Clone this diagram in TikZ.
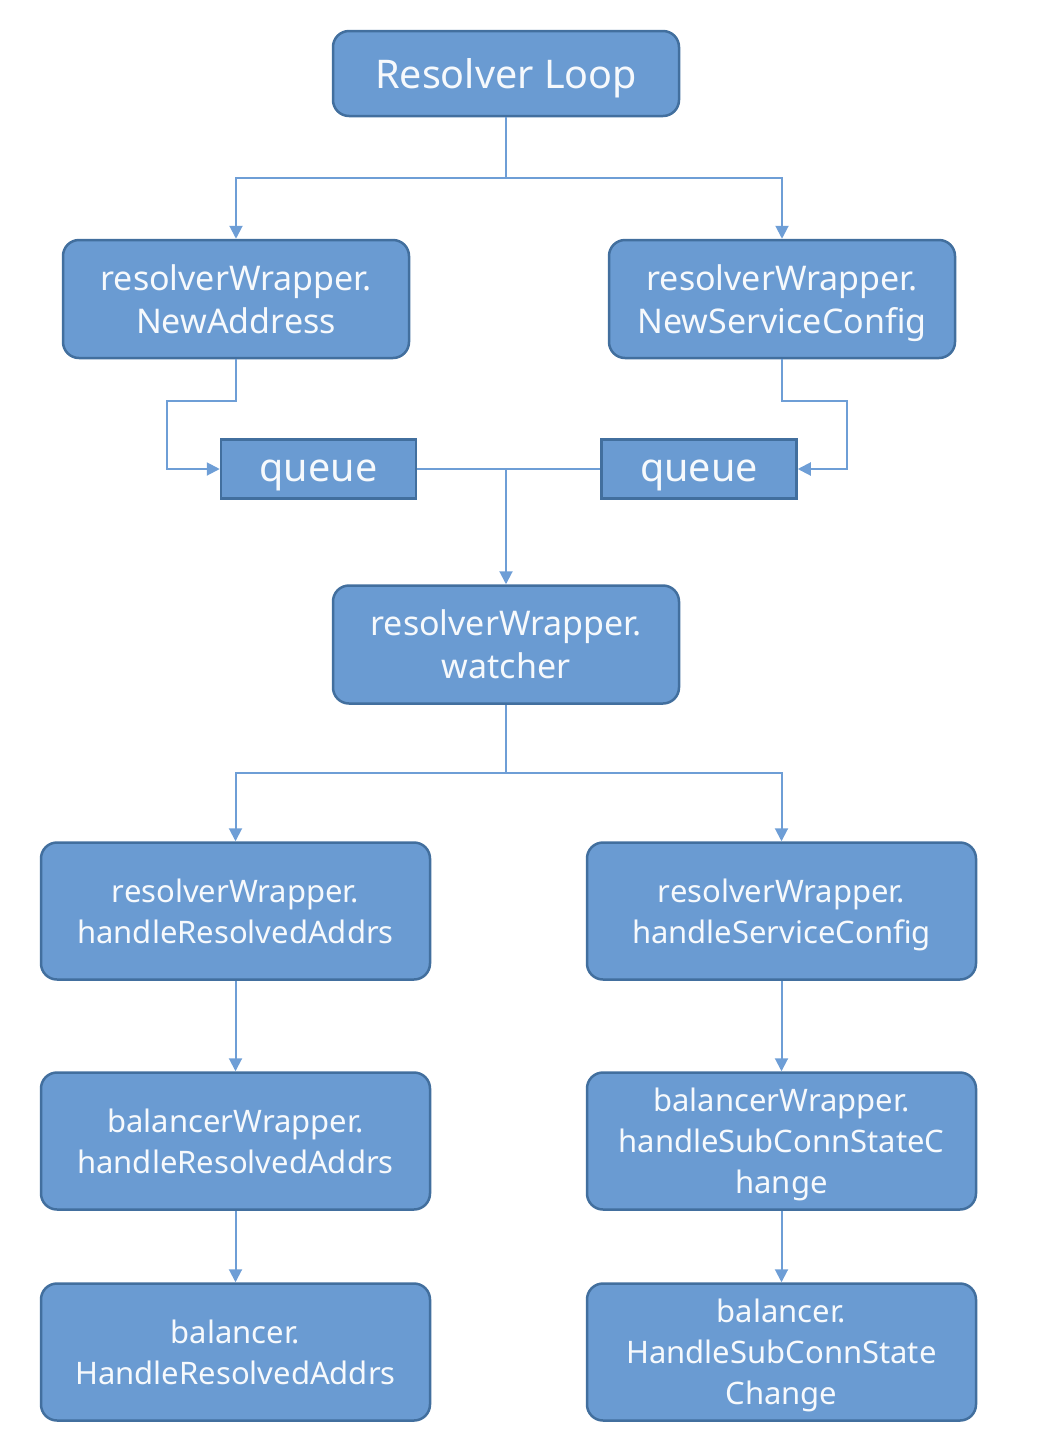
\documentclass[tikz,border=0pt]{standalone}
\usepackage{fontspec}
\setmainfont{Noto Sans}
\usetikzlibrary{arrows.meta}
\definecolor{boxfill}{RGB}{106,155,210}
\definecolor{boxedge}{RGB}{66,111,158}
\definecolor{linec}{RGB}{110,158,214}
\definecolor{txt}{RGB}{246,249,252}
\tikzset{
  base/.style={draw=boxedge, fill=boxfill, line width=2.5pt, text=txt, align=center, inner sep=0pt, text depth=0pt},
  rbox/.style={base, rounded corners=16pt, minimum width=346pt, minimum height=118pt, font=\fontsize{34}{43}\selectfont},
  wbox/.style={base, rounded corners=16pt, minimum width=389pt, minimum height=137pt, font=\fontsize{31}{41}\selectfont},
  qbox/.style={base, minimum width=195pt, minimum height=59pt, text height=24pt, font=\fontsize{39.5}{42}\selectfont},
  conn/.style={draw=linec, line width=2pt},
  arr/.style={conn, -{Triangle[length=13pt,width=13pt]}},
}
\begin{document}
\begin{tikzpicture}[x=1pt,y=-1pt]
\useasboundingbox (0,0) rectangle (1058,1452);
\node[rbox, minimum height=85pt, font=\fontsize{39.5}{43}\selectfont] (loop) at (506,73.5) {Resolver Loop};
\node[rbox] (na) at (236,299) {resolverWrapper.\\NewAddress};
\node[rbox] (nsc) at (782,299) {resolverWrapper.\\NewServiceConfig};
\node[qbox] (q1) at (318.5,469) {queue};
\node[qbox] (q2) at (699,469) {queue};
\node[rbox] (w) at (506,644.5) {resolverWrapper.\\watcher};
\node[wbox] (hra) at (235.5,911) {resolverWrapper.\\handleResolvedAddrs};
\node[wbox] (hsc) at (781.5,911) {resolverWrapper.\\handleServiceConfig};
\node[wbox] (bhra) at (235.5,1141) {balancerWrapper.\\handleResolvedAddrs};
\node[wbox] (bhsc) at (781.5,1141) {balancerWrapper.\\handleSubConnStateC\\hange};
\node[wbox] (b1) at (235.5,1352) {balancer.\\HandleResolvedAddrs};
\node[wbox] (b2) at (781.5,1352) {balancer.\\HandleSubConnState\\Change};
\coordinate (j1) at (506,178);
\coordinate (j2) at (506,469);
\coordinate (j3) at (506,773);
% top fan-out
\draw[conn] (loop.south) -- (j1);
\draw[arr] (j1) -| (na.north);
\draw[arr] (j1) -| (nsc.north);
% to queues
\draw[arr] (na.south) -- ++(0,42) -| (167,469) -- (q1.west);
\draw[arr] (nsc.south) -- ++(0,42) -| (847,469) -- (q2.east);
% queues to watcher
\draw[conn] (q1.east) -- (q2.west);
\draw[arr] (j2) -- (w.north);
% watcher fan-out
\draw[conn] (w.south) -- (j3);
\draw[arr] (j3) -| (hra.north);
\draw[arr] (j3) -| (hsc.north);
% verticals
\draw[arr] (hra) -- (bhra);
\draw[arr] (bhra) -- (b1);
\draw[arr] (hsc) -- (bhsc);
\draw[arr] (bhsc) -- (b2);
\end{tikzpicture}
\end{document}
